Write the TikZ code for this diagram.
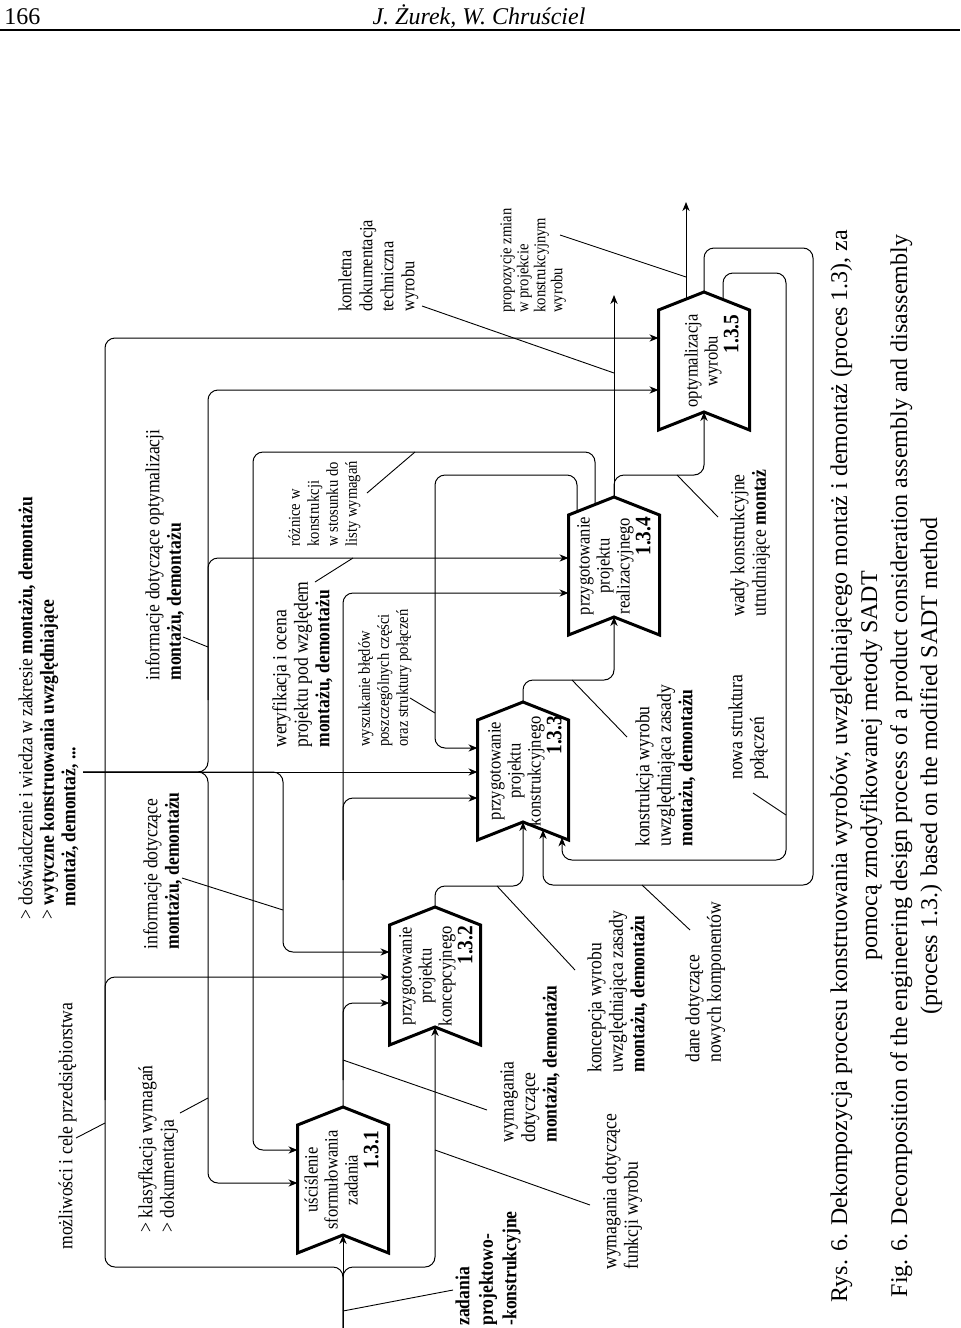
\documentclass[tikz,border=0pt]{standalone}
\usepackage{fontspec}
\setmainfont{Liberation Serif}
\newfontfamily\diafont[FakeStretch=0.88]{Liberation Serif}
\usetikzlibrary{arrows.meta}

\tikzset{
  box/.style={line width=1.5pt, line join=miter},
  wire/.style={line width=0.5pt, rounded corners=5pt},
  into/.style={wire, -{Stealth[length=4.5pt, width=3.6pt, inset=1.4pt]}},
  lead/.style={line width=0.45pt},
  lbl/.style={rotate=90, anchor=north west, inner sep=0pt, align=left,
    font=\diafont\fontsize{10}{10.75}\selectfont},
  lblsmall/.style={lbl, font=\diafont\fontsize{8.3}{9.5}\selectfont},
  intext/.style={rotate=90, inner sep=0pt, font=\diafont\fontsize{9.4}{10}\selectfont},
}

\begin{document}
\begin{tikzpicture}[x=0.5pt, y=-0.5pt]
    \useasboundingbox (0,0) rectangle (960,1328);
    % page header
    \node[anchor=base west, inner sep=0pt, font=\fontsize{12}{14}\selectfont] (page) at (4,24) {166};
    \node[anchor=base, inner sep=0pt, font=\itshape\fontsize{12}{14}\selectfont] (authors) at (479,24) {J. Żurek, W. Chruściel};
    \draw[line width=1pt] (0,30) -- (960,30);

    % activity boxes 1.3.1 ... 1.3.5
    \foreach \i/\l/\s/\b in {1/297.5/1125/1253, 2/389.5/925/1045, 3/477.5/720/840, 4/568.5/515/635, 5/658.5/310/430} {
        \draw[box] (\l,\s) -- ++(45.5,-18) -- ++(45.5,18) -- (\l+91,\b) -- ++(-45.5,-18) -- ++(-45.5,18) -- cycle;
        \coordinate (p\i-out) at (\l+45.5,\s-18);
        \coordinate (p\i-in) at (\l+45.5,\b-18);
    }
    \node[intext] (t1) at (344,1180) {\begin{tabular}{@{}c@{}}uściślenie\\sformułowania\\zadania\\\multicolumn{1}{@{}r@{}}{\bfseries\fontsize{11}{10}\selectfont 1.3.1}\end{tabular}};
    \node[intext] (t2) at (438,976) {\begin{tabular}{@{}c@{}}przygotowanie\\projektu\\koncepcyjnego\\\multicolumn{1}{@{}r@{}}{\bfseries\fontsize{11}{10}\selectfont 1.3.2}\end{tabular}};
    \node[intext] (t3) at (527,771) {\begin{tabular}{@{}c@{}}przygotowanie\\projektu\\konstrukcyjnego\\\multicolumn{1}{@{}r@{}}{\bfseries\fontsize{11}{10}\selectfont 1.3.3}\end{tabular}};
    \node[intext] (t4) at (616,566) {\begin{tabular}{@{}c@{}}przygotowanie\\projektu\\realizacyjnego\\\multicolumn{1}{@{}r@{}}{\bfseries\fontsize{11}{10}\selectfont 1.3.4}\end{tabular}};
    \node[intext] (t5) at (714,361) {\begin{tabular}{@{}c@{}}optymalizacja\\wyrobu\\\multicolumn{1}{@{}r@{}}{\bfseries\fontsize{11}{10}\selectfont 1.3.5}\end{tabular}};

    % ports on the box sides
    \coordinate (p1-c1) at (297.5,1150);
    \coordinate (p1-c2) at (297.5,1183);
    \coordinate (p2-c1) at (389.5,952);
    \coordinate (p2-c2) at (389.5,977);
    \coordinate (p2-c3) at (389.5,1003);
    \coordinate (p3-c1) at (477.5,748);
    \coordinate (p3-c2) at (477.5,772);
    \coordinate (p3-c3) at (477.5,798);
    \coordinate (p4-c1) at (568.5,558);
    \coordinate (p4-c2) at (568.5,593);
    \coordinate (p5-c1) at (658.5,338);
    \coordinate (p5-c2) at (658.5,390);
    \coordinate (p4-o2) at (595,504.5);
    \coordinate (p4-o3) at (577,511.6);
    \coordinate (p5-o1) at (686,299.1);
    \coordinate (p5-o2) at (723,299.5);
    \coordinate (p3-i2) at (543,829.9);
    \coordinate (p3-i3) at (562,837.4);

    % input: zadania
    \coordinate (zad) at (343,1328);
    \draw[into] (zad) -- (p1-in);
    \draw[into] (zad) |- (105,1267) |- (p5-c1);
    \draw[into] (zad) |- (435,1267) -- (p2-in);
    \draw[into] (105,1100) |- (p2-c2);

    % control: doswiadczenie i wiedza
    \coordinate (dosw) at (83,772);
    \draw[into] (dosw) -- (p3-c2);
    \draw[into] (dosw) -| (208,390) -- (p5-c2);
    \draw[into] (dosw) -| (208,1183) -- (p1-c2);
    \draw[into] (208,700) |- (p4-c1);
    \draw[into] (dosw) -| (283,952) -- (p2-c1);

    % output of 1.3.1
    \draw[into] (p1-out) |- (p4-c2);
    \draw[into] (343,1080) |- (p2-c3);
    \draw[into] (343,880) |- (p3-c3);

    % main chain
    \draw[into] (p2-out) |- (523,886) -- (p3-in);
    \draw[into] (p3-out) |- (614,680) -- (p4-in);
    \draw[into] (p4-out) |- (704,475) -- (p5-in);
    \coordinate (out4) at (614,295);
    \draw[into] (p4-out) -- (out4);

    % feedback from 1.3.4
    \draw[into] (p4-o2) |- (253,452) |- (p1-c1);
    \draw[into] (p4-o3) |- (435,475) |- (p3-c1);

    % outputs of 1.3.5
    \coordinate (out5) at (686,202);
    \draw[into] (p5-o1) -- (out5);
    \draw[into] (p5-out) |- (813,248) |- (543,885) -- (p3-i2);
    \draw[into] (p5-o2) |- (786,273) |- (562,860) -- (p3-i3);

    % labels
    \node[lbl] (l-dosw) at (18,920) {> doświadczenie i wiedza w zakresie \textbf{montażu, demontażu}\\> \textbf{wytyczne konstruowania uwzględniające}\\\hspace*{6.5pt}\textbf{montaż, demontaż, ...}};
    \node[lbl] (l-mozl) at (58,1250) {możliwości i cele przedsiębiorstwa};
    \node[lbl] (l-opt) at (145,681) {informacje dotyczące optymalizacji\\\textbf{montażu, demontażu}};
    \node[lbl] (l-info) at (143,950) {informacje dotyczące\\\textbf{montażu, demontażu}};
    \node[lbl] (l-klas) at (138,1233) {> klasyfkacja wymagań\\> dokumentacja};
    \node[lbl] (l-wer) at (272,748) {weryfikacja i ocena\\projektu pod względem\\\textbf{montażu, demontażu}};
    \node[lblsmall] (l-rozn) at (288,547) {różnice w\\konstrukcji\\w stosunku do\\listy wymagań};
    \node[lblsmall] (l-wysz) at (358,747) {wyszukanie błędów\\poszczególnych części\\oraz struktury połączeń};
    \node[lbl, font=\diafont\fontsize{9.3}{10.5}\selectfont] (l-kompl) at (338,312) {komletna\\dokumentacja\\techniczna\\wyrobu};
    \node[lblsmall, font=\diafont\fontsize{8.3}{8.5}\selectfont] (l-prop) at (500,313) {propozycje zmian\\w projekcie\\konstrukcyjnym\\wyrobu};
    \node[lbl] (l-wady) at (730,617) {wady konstrukcyjne\\utrudniające \textbf{montaż}};
    \node[lbl] (l-nowa) at (728,780) {nowa struktura\\połączeń};
    \node[lbl] (l-konstr) at (635,847) {konstrukcja wyrobu\\uwzględniająca zasady\\\textbf{montażu, demontażu}};
    \node[lbl] (l-dane) at (685,1063) {dane dotyczące\\nowych komponentów};
    \node[lbl] (l-konc) at (587,1073) {koncepcja wyrobu\\uwzględniająca zasady\\\textbf{montażu, demontażu}};
    \node[lbl] (l-wymf) at (602,1270) {wymagania dotyczące\\funkcji wyrobu};
    \node[lbl] (l-wymm) at (500,1143) {wymagania\\dotyczące\\\textbf{montażu, demontażu}};
    \node[lbl, font=\diafont\bfseries\fontsize{10}{11.75}\selectfont] (l-zad) at (455,1326) {zadania\\projektowo-\\-konstrukcyjne};

    % leader lines
    \coordinate (t-mozl) at (76,1138);    \coordinate (w-mozl) at (105,1123);
    \coordinate (t-klas) at (180,1113);   \coordinate (w-klas) at (208,1098);
    \coordinate (t-info) at (182,878);    \coordinate (w-info) at (283,910);
    \coordinate (t-opt) at (183,637);     \coordinate (w-opt) at (208,647);
    \coordinate (t-wer) at (315,582);     \coordinate (w-wer) at (353,558);
    \coordinate (t-rozn) at (367,493);    \coordinate (w-rozn) at (415,452);
    \coordinate (t-wysz) at (410,698);    \coordinate (w-wysz) at (435,713);
    \coordinate (t-kompl) at (422,306);   \coordinate (w-kompl) at (614,373);
    \coordinate (t-prop) at (560,235);    \coordinate (w-prop) at (686,277);
    \coordinate (t-wady) at (718,517);    \coordinate (w-wady) at (677,475);
    \coordinate (t-nowa) at (753,793);    \coordinate (w-nowa) at (786,815);
    \coordinate (t-konstr) at (627,737);  \coordinate (w-konstr) at (572,680);
    \coordinate (t-dane) at (690,930);    \coordinate (w-dane) at (642,885);
    \coordinate (t-konc) at (575,970);    \coordinate (w-konc) at (497,886);
    \coordinate (t-wymf) at (590,1205);   \coordinate (w-wymf) at (435,1150);
    \coordinate (t-wymm) at (487,1110);   \coordinate (w-wymm) at (343,1060);
    \coordinate (t-zad) at (453,1290);    \coordinate (w-zad) at (343,1311);
    \foreach \a in {mozl,klas,info,opt,wer,rozn,wysz,kompl,prop,wady,nowa,konstr,dane,konc,wymf,wymm,zad}
        \draw[lead] (t-\a) -- (w-\a);

    % caption
    \node[rotate=90, anchor=north, inner sep=0pt, align=center, font=\fontsize{12}{15}\selectfont] (caption) at (830,766)
        {Rys. 6. Dekompozycja procesu konstruowania wyrobów, uwzględniającego montaż i demontaż (proces 1.3), za\\
         pomocą zmodyfikowanej metody SADT\\
         Fig. 6. Decomposition of the engineering design process of a product consideration assembly and disassembly\\
         (process 1.3.) based on the modified SADT method};
\end{tikzpicture}
\end{document}
